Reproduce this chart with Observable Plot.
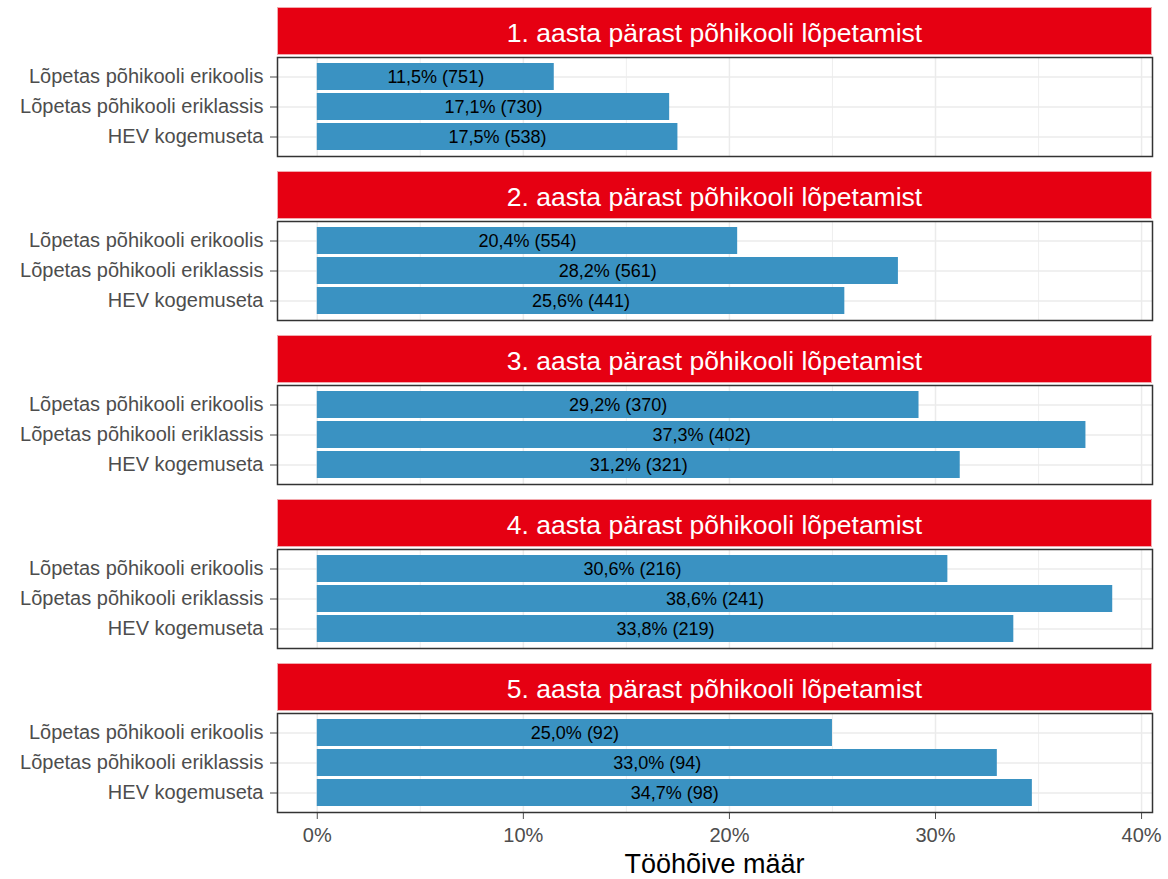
<!DOCTYPE html>
<html>
<head>
<meta charset="utf-8">
<script src="https://cdn.jsdelivr.net/npm/d3@7"></script>
<script src="https://cdn.jsdelivr.net/npm/@observablehq/plot@0.6"></script>
<style>
  body { margin: 0; background: #fff; font-family: "Liberation Sans", Arial, sans-serif; }
  #chart { width: 1168px; height: 879px; position: relative; overflow: hidden; background: #fff; }
  .strip {
    margin-left: 277px; width: 875px; height: 48px; box-sizing: border-box;
    background: #E60012; color: #fff; font-size: 26.5px; text-align: center;
    line-height: 46px; border: 1px solid #f2a9ae; white-space: nowrap;
  }
  .strip span { position: relative; top: 2px; }
  #chart svg { display: block; }
  #chart svg g[aria-label$="axis"] .tick line { stroke: #333; stroke-width: 1.5; }
  .xtitle {
    margin-left: 277px; width: 875px; height: 30px; text-align: center;
    font-size: 27px; line-height: 30px; color: #000; white-space: nowrap;
  }
</style>
</head>
<body>
<div id="chart"></div>
<script>
// ---- data ----
const facetLabels = [
  "1. aasta pärast põhikooli lõpetamist",
  "2. aasta pärast põhikooli lõpetamist",
  "3. aasta pärast põhikooli lõpetamist",
  "4. aasta pärast põhikooli lõpetamist",
  "5. aasta pärast põhikooli lõpetamist"
];
const groups = ["Lõpetas põhikooli erikoolis", "Lõpetas põhikooli eriklassis", "HEV kogemuseta"];
const rateErikool  = [11.5, 20.4, 29.2, 30.6, 25.0];
const nErikool     = [751, 554, 370, 216, 92];
const rateEriklass = [17.1, 28.2, 37.3, 38.6, 33.0];
const nEriklass    = [730, 561, 402, 241, 94];
const rateHev      = [17.5, 25.6, 31.2, 33.8, 34.7];
const nHev         = [538, 441, 321, 219, 98];
const majorTicks = [0, 10, 20, 30, 40];
const minorTicks = [5, 15, 25, 35];
const xTitle = "Tööhõive määr";

// ---- build ----
const seriesRates = [rateErikool, rateEriklass, rateHev];
const seriesN = [nErikool, nEriklass, nHev];
const maxRate = d3.max(seriesRates.flat());
const pad = 0.05 * maxRate;
const xDomain = [-pad, maxRate + pad];
const fmt = d => d.rate.toFixed(1).replace(".", ",") + "% (" + d.n + ")";

const chart = document.getElementById("chart");

facetLabels.forEach((label, f) => {
  const last = f === facetLabels.length - 1;
  const strip = document.createElement("div");
  strip.className = "strip";
  strip.style.marginTop = (f === 0 ? 7 : 13) + "px";
  const span = document.createElement("span");
  span.textContent = label;
  strip.appendChild(span);
  chart.appendChild(strip);

  const rows = groups.map((g, j) => ({group: g, rate: seriesRates[j][f], n: seriesN[j][f]}));

  const svg = Plot.plot({
    width: 1168,
    height: last ? 2 + 99 + 37 : 2 + 99 + 2,
    marginLeft: 277,
    marginRight: 16,
    marginTop: 2,
    marginBottom: last ? 37 : 2,
    style: {
      fontFamily: "'Liberation Sans', Arial, sans-serif",
      fontSize: "20px",
      color: "#4D4D4D",
      background: "transparent",
      overflow: "visible"
    },
    x: {
      domain: xDomain,
      ticks: majorTicks,
      tickFormat: d => d + "%",
      tickSize: 7,
      tickPadding: 8,
      label: null,
      axis: last ? "bottom" : null
    },
    y: {
      domain: groups,
      paddingInner: 0.1,
      paddingOuter: 0.15,
      tickSize: 7,
      tickPadding: 7,
      label: null
    },
    marks: [
      Plot.ruleX(minorTicks, {stroke: "#EBEBEB", strokeWidth: 0.8}),
      Plot.ruleX(majorTicks, {stroke: "#EBEBEB", strokeWidth: 1.5}),
      Plot.ruleY(groups, {stroke: "#EBEBEB", strokeWidth: 1.5}),
      Plot.barX(rows, {x: "rate", y: "group", fill: "#3A92C2"}),
      Plot.text(rows, {x: d => d.rate / 2, y: "group", text: fmt, fill: "#000", fontSize: 18}),
      Plot.frame({stroke: "#333", strokeWidth: 1.5})
    ]
  });
  chart.appendChild(svg);

  if (last) {
    const t = document.createElement("div");
    t.className = "xtitle";
    t.textContent = xTitle;
    chart.appendChild(t);
  }
});
</script>
</body>
</html>
